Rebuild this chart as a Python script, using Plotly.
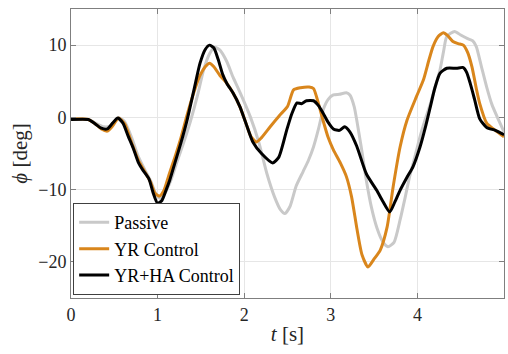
import plotly.graph_objects as go

# ---- data ----
t_passive = [0, 0.2, 0.3, 0.38, 0.45, 0.5, 0.56, 0.62, 0.7, 0.78, 0.85, 0.92, 0.98, 1.03, 1.08,
             1.15, 1.22, 1.3, 1.38, 1.46, 1.53, 1.6, 1.66, 1.72, 1.8, 1.87, 1.95, 2.07, 2.17,
             2.26, 2.35, 2.42, 2.47, 2.53, 2.6, 2.68, 2.74, 2.8, 2.86, 2.91, 2.97, 3.03, 3.1,
             3.18, 3.22, 3.27, 3.3, 3.35, 3.41, 3.47, 3.53, 3.6, 3.66, 3.73, 3.8, 3.86, 3.91,
             3.97, 4.03, 4.09, 4.15, 4.2, 4.26, 4.3, 4.34, 4.43, 4.5, 4.58, 4.64, 4.68, 4.74,
             4.8, 4.86, 4.92, 5.0]
phi_passive = [-0.3, -0.3, -0.9, -1.3, -1.2, -0.6, -0.1, -0.6, -2.8, -5.5, -7.2, -8.8, -10.6,
               -11.2, -10.6, -8.8, -6.3, -3.5, -0.5, 3.0, 6.5, 8.8, 9.7, 9.3, 7.7, 5.6, 3.5,
               0.1, -3.5, -7.7, -11.0, -12.8, -13.3, -12.3, -9.5, -7.5, -6.0, -4.1, -1.5, 1.0,
               2.5, 3.1, 3.2, 3.4, 3.1, 1.5, -0.4, -4.0, -8.7, -12.5, -15.2, -17.2, -17.9,
               -17.3, -14.2, -11.0, -8.2, -5.5, -2.7, -0.3, 1.9, 4.0, 6.5, 9.0, 11.2, 11.9,
               11.4, 10.9, 10.6, 9.8, 7.0, 4.2, 1.8, 0.1, -2.0]

t_yr = [0, 0.2, 0.28, 0.35, 0.42, 0.48, 0.55, 0.62, 0.7, 0.78, 0.85, 0.92, 0.97, 1.02, 1.07,
        1.13, 1.2, 1.27, 1.34, 1.42, 1.49, 1.55, 1.6, 1.65, 1.72, 1.8, 1.87, 1.95, 2.02, 2.08,
        2.14, 2.2, 2.3, 2.41, 2.5, 2.57, 2.65, 2.75, 2.8, 2.86, 2.91, 2.97, 3.03, 3.11, 3.18,
        3.24, 3.3, 3.36, 3.43, 3.5, 3.57, 3.65, 3.72, 3.8, 3.88, 3.99, 4.07, 4.13, 4.18, 4.24,
        4.3, 4.35, 4.41, 4.47, 4.53, 4.58, 4.63, 4.68, 4.72, 4.8, 4.9, 5.0]
phi_yr = [-0.2, -0.3, -0.9, -1.6, -1.9, -1.2, -0.1, -0.9, -3.5, -6.0, -7.5, -9.0, -10.5, -10.9,
          -10.2, -8.0, -5.5, -2.8, 0.3, 3.5, 5.8, 7.0, 7.5, 7.0, 5.8, 4.7, 3.4, 1.5, -0.8, -2.7,
          -3.4, -2.8, -1.3, 0.3, 1.5, 3.8, 4.1, 4.2, 4.0, 1.8, -0.4, -2.8, -4.5, -6.3, -8.2,
          -11.0, -15.3, -19.0, -20.7, -19.6, -18.4, -15.2, -9.6, -4.1, -0.4, 2.9, 5.2, 7.8, 9.8,
          11.2, 11.7, 11.3, 10.5, 10.2, 10.0, 9.0, 7.0, 4.0, 1.9, -0.8, -1.8, -2.7]

t_yrha = [0, 0.2, 0.28, 0.35, 0.42, 0.48, 0.54, 0.6, 0.66, 0.72, 0.78, 0.83, 0.9, 0.95, 1.0,
          1.05, 1.1, 1.14, 1.2, 1.27, 1.34, 1.42, 1.49, 1.55, 1.6, 1.65, 1.7, 1.75, 1.8, 1.87,
          1.95, 2.02, 2.1, 2.2, 2.33, 2.4, 2.49, 2.55, 2.61, 2.66, 2.72, 2.8, 2.86, 2.91, 2.97,
          3.03, 3.1, 3.16, 3.22, 3.3, 3.41, 3.53, 3.6, 3.68, 3.74, 3.8, 3.88, 3.95, 4.03, 4.1,
          4.15, 4.2, 4.26, 4.34, 4.45, 4.53, 4.57, 4.61, 4.66, 4.72, 4.8, 4.9, 5.0]
phi_yrha = [-0.3, -0.3, -0.9, -1.5, -1.6, -0.8, -0.1, -0.8, -2.6, -4.3, -6.3, -7.3, -8.5, -10.5,
            -11.9, -11.5, -10.0, -8.7, -6.3, -3.5, -0.4, 3.8, 7.5, 9.4, 10.0, 9.6, 8.0, 6.0, 4.7,
            3.4, 1.5, -0.8, -3.4, -5.0, -6.3, -5.5, -1.8, 0.5, 2.0, 1.9, 2.3, 2.3, 1.6, 0.6,
            -0.7, -1.6, -1.8, -1.3, -2.0, -4.0, -7.8, -10.1, -11.6, -13.1, -11.7, -10.1, -8.3,
            -6.8, -4.1, -1.0, 1.5, 4.0, 6.1, 6.8, 6.8, 6.9, 6.2, 4.7, 2.5, -0.2, -1.4, -1.8, -2.4]

series_names = ["Passive", "YR Control", "YR+HA Control"]
series_colors = ["#c9c9c9", "#d9861c", "#000000"]
x_ticks = [0, 1, 2, 3, 4, 5]
y_ticks = [-20, -10, 0, 10]

FONT = "Liberation Serif"

fig = go.Figure()
for name, tt, yy, col in zip(series_names,
                             [t_passive, t_yr, t_yrha],
                             [phi_passive, phi_yr, phi_yrha],
                             series_colors):
    fig.add_trace(go.Scatter(x=tt, y=yy, mode="lines", name=name,
                             line=dict(color=col, width=3, shape="spline", smoothing=0.6)))

fig.update_layout(
    width=508, height=354,
    margin=dict(l=71, r=4, t=9, b=56),
    paper_bgcolor="white", plot_bgcolor="white",
    legend=dict(x=0.005, y=0.01, xanchor="left", yanchor="bottom",
                bgcolor="white", bordercolor="#404040", borderwidth=1,
                font=dict(family=FONT, size=18, color="#000000")),
    xaxis=dict(range=[0, 5], tickvals=x_ticks,
               tickfont=dict(family=FONT, size=18, color="#262626"),
               title=dict(text="<i>t</i> [s]", font=dict(family=FONT, size=21, color="#262626"),
                          standoff=2),
               showline=True, mirror="ticks", linecolor="#7f7f7f",
               ticks="inside", ticklen=5, tickcolor="#7f7f7f",
               gridcolor="#e6e6e6", zeroline=False),
    yaxis=dict(range=[-25, 15], tickvals=y_ticks,
               tickfont=dict(family=FONT, size=18, color="#262626"),
               title=dict(text="<i>ϕ</i> [deg]", font=dict(family=FONT, size=21, color="#262626"),
                          standoff=4),
               showline=True, mirror="ticks", linecolor="#7f7f7f",
               ticks="inside", ticklen=5, tickcolor="#7f7f7f",
               gridcolor="#e6e6e6", zeroline=False),
)

fig.write_html("out.html")
